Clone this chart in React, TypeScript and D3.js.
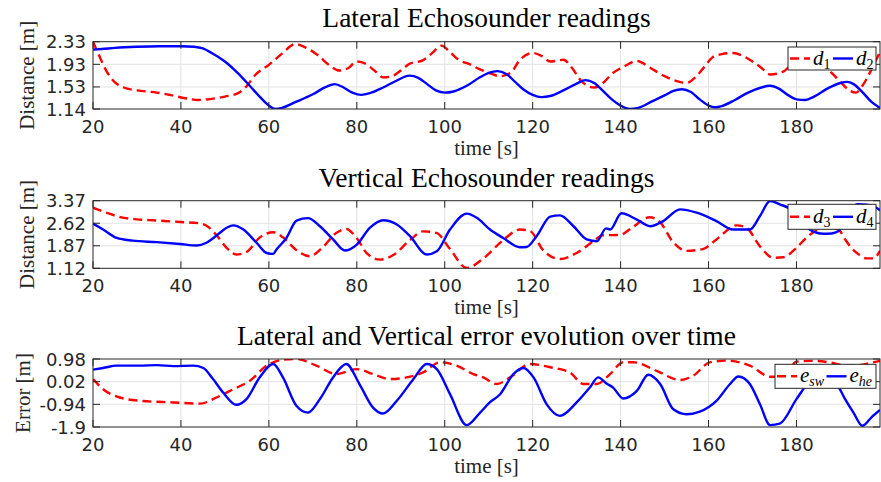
import React, { useEffect, useRef } from 'react'
import * as d3 from 'd3'

type Pt = [number, number]

// time ticks and panel texts
const xTicks = [20, 40, 60, 80, 100, 120, 140, 160, 180]
const titles = ['Lateral Echosounder readings', 'Vertical Echosounder readings', 'Lateral and Vertical error evolution over time']
const yLabels = ['Distance [m]', 'Distance [m]', 'Error [m]']
const yTicks1 = [1.14, 1.53, 1.93, 2.33]
const yTicks2 = [1.12, 1.87, 2.62, 3.37]
const yTicks3 = [-1.9, -0.94, 0.02, 0.98]
const legend1 = [['d', '1'], ['d', '2']]
const legend2 = [['d', '3'], ['d', '4']]
const legend3 = [['e', 'sw'], ['e', 'he']]

// lateral echosounder (red dashed d1, blue d2)
const d1: Pt[] = [[20,2.33],[21,2.15],[22,1.98],[23,1.82],[24,1.70],[25,1.61],[27,1.52],[30,1.47],[34.5,1.43],[38,1.38],[41,1.33],[44,1.30],[47,1.32],[50,1.36],[53,1.42],[55,1.55],[57,1.75],[60,1.92],[63,2.12],[66,2.29],[68,2.24],[71,2.10],[74,1.90],[76,1.82],[78,1.86],[80,1.98],[82,1.94],[84,1.82],[86,1.70],[88,1.72],[90,1.82],[92,1.94],[95,2.00],[97,2.12],[99.3,2.26],[101,2.16],[103,2.02],[106,1.92],[108,1.84],[110,1.78],[112.6,1.72],[115,1.78],[117,2.00],[120,2.13],[122,2.08],[124,1.98],[127,2.01],[129,1.86],[131,1.64],[134,1.52],[136,1.60],[138,1.76],[141,1.90],[143.7,1.99],[146.7,1.87],[150,1.72],[153,1.63],[155,1.60],[157,1.70],[159,1.88],[161,2.06],[163,2.11],[165.6,2.13],[168,2.07],[170,1.98],[172,1.87],[174,1.75],[177,1.80],[178.5,1.90],[181,2.00],[184,1.98],[186,1.92],[188,1.78],[190,1.62],[192,1.47],[193.5,1.43],[195,1.55],[197,1.83],[199,2.15]]
const d2: Pt[] = [[20,2.19],[22,2.20],[25,2.22],[30,2.24],[35,2.25],[40,2.25],[43,2.24],[45,2.21],[47,2.13],[50,1.98],[53,1.77],[56,1.52],[58,1.35],[60,1.20],[61.5,1.14],[63,1.16],[66,1.26],[70,1.40],[73,1.53],[75,1.58],[77,1.52],[79,1.43],[81,1.39],[83,1.42],[86,1.52],[89,1.64],[92,1.73],[94,1.69],[96,1.58],[98,1.47],[100,1.43],[102,1.45],[105,1.55],[108,1.70],[110,1.78],[112,1.81],[114,1.76],[116,1.62],[118,1.48],[120,1.39],[122,1.35],[124,1.37],[127,1.47],[130,1.59],[132,1.65],[134,1.60],[136,1.46],[138,1.31],[140,1.20],[142,1.14],[144,1.16],[147,1.27],[150,1.38],[152,1.46],[154,1.49],[156,1.44],[158,1.31],[160,1.20],[161.5,1.17],[163,1.19],[166,1.30],[169,1.43],[172,1.52],[174,1.55],[176,1.50],[178,1.39],[180,1.31],[182,1.30],[184,1.36],[187,1.50],[190,1.60],[191.5,1.62],[193,1.58],[195,1.44],[197,1.27],[199,1.16]]

// vertical echosounder (red dashed d3, blue d4)
const d3v: Pt[] = [[20,3.14],[23,2.97],[27,2.80],[30,2.75],[34.5,2.71],[40,2.66],[44,2.62],[46,2.52],[48.1,2.22],[50.4,1.80],[52.6,1.58],[54.9,1.66],[57.9,2.14],[61,2.32],[63.2,2.15],[66.3,1.72],[69.3,1.52],[72.3,1.83],[75.4,2.30],[77.6,2.43],[80,2.12],[82.3,1.62],[85.3,1.41],[88.3,1.56],[92.1,2.06],[95.1,2.35],[98.1,2.30],[101.2,1.76],[105,1.13],[108.8,1.45],[113.3,2.06],[117.1,2.41],[119.4,2.36],[122.4,1.72],[126.2,1.43],[130,1.63],[133.8,2.02],[136,2.22],[139.8,2.23],[142.4,2.45],[146.6,2.82],[148.9,2.67],[151.9,2.00],[154.9,1.70],[158.7,1.76],[161.8,2.08],[166.4,2.55],[168.6,2.47],[171.7,1.85],[174.7,1.47],[177,1.49],[180,1.80],[182,2.10],[184.5,2.38],[187,2.48],[189.5,2.42],[191,2.10],[192.5,1.80],[194,1.60],[196,1.45],[197.5,1.45],[199,1.70]]
const d4: Pt[] = [[20,2.61],[22.3,2.41],[25.4,2.13],[29,2.04],[34.5,1.99],[39.8,1.93],[43.6,1.88],[45.8,1.97],[48.1,2.21],[50.4,2.47],[51.9,2.55],[54.2,2.41],[57.2,1.97],[59.5,1.63],[61,1.60],[61.7,1.74],[64,2.13],[66.3,2.71],[68.9,2.79],[71.6,2.52],[74.6,2.08],[77.3,1.71],[80,1.91],[83,2.47],[86,2.72],[89.1,2.58],[92.1,2.19],[95.9,1.58],[98.2,1.69],[101.2,2.41],[105,2.94],[107.3,2.80],[110.3,2.41],[113.3,2.13],[117.1,1.82],[118.6,1.83],[120.9,2.19],[124,2.84],[126.2,2.88],[129.3,2.52],[132.3,2.08],[134.6,2.02],[136.7,2.45],[137.6,2.41],[140.2,2.95],[143.6,2.75],[146.7,2.52],[149.7,2.69],[153.5,3.08],[157.3,2.97],[161.8,2.69],[165.6,2.41],[169.4,2.41],[171.7,2.86],[174,3.36],[176.2,3.25],[178.5,3.10],[180,2.90],[182,2.55],[184,2.33],[186,2.27],[188,2.28],[189.5,2.35],[191,2.70],[192.5,3.10],[194,3.25],[196,3.24],[198,3.15],[199,3.05]]

// error evolution (red dashed e_sw, blue e_he)
const eSw: Pt[] = [[20,0.13],[22.3,-0.30],[26.1,-0.65],[30.7,-0.79],[38.3,-0.86],[44.4,-0.91],[48.1,-0.65],[51.9,-0.30],[55.7,0.06],[59.5,0.70],[63.2,0.95],[66.3,0.98],[70.8,0.70],[75.4,0.34],[80,0.55],[83.7,0.34],[87.5,0.13],[91.3,0.20],[95.1,0.41],[98.9,0.84],[102.7,0.70],[106.5,0.34],[108.8,0.20],[111.8,-0.08],[114.9,0.20],[119.4,0.77],[124,0.63],[128.5,0.41],[131.5,-0.08],[134.6,-0.08],[137.6,0.34],[140.6,0.84],[142.9,0.84],[148.2,0.48],[153.5,0.09],[156.5,0.27],[160.3,0.84],[164.1,0.91],[169.4,0.70],[174,0.23],[177,0.23],[180,0.87],[184,0.90],[188,0.82],[191,0.72],[194,0.72],[197,0.82],[199,0.90]]
const eHe: Pt[] = [[20,0.53],[22.3,0.60],[25.4,0.70],[30.7,0.70],[34.5,0.72],[38.3,0.68],[42.8,0.70],[45.1,0.60],[47.3,0.13],[49.6,-0.44],[52.6,-0.96],[54.9,-0.72],[57.9,0.20],[61,0.77],[63.2,0.20],[66.3,-1.01],[68.9,-1.29],[71.6,-0.72],[74.6,0.20],[77.6,0.77],[80.6,-0.08],[83.7,-1.08],[86,-1.33],[89.1,-0.79],[92.9,0.13],[95.9,0.77],[98.2,0.55],[101.2,-0.51],[105,-1.82],[108,-1.30],[110.3,-0.85],[112.6,-0.51],[115.6,0.34],[117.9,0.60],[120.2,0.20],[123.2,-0.94],[126.2,-1.43],[130,-0.86],[133,-0.23],[134.9,0.20],[136.8,-0.06],[138.3,-0.23],[140.6,-0.69],[143.7,-0.37],[146.3,0.31],[149,-0.08],[152,-1.15],[155,-1.36],[158,-1.25],[161.8,-0.79],[164.9,-0.08],[166.8,0.24],[169.4,-0.08],[171.7,-0.94],[174,-1.82],[176.2,-1.76],[180,-0.72],[183,0.06],[185,0.40],[187,0.45],[189.3,-0.10],[191,-0.70],[193,-1.30],[195,-1.85],[197,-1.50],[199,-1.18]]

const W = 881, H = 482
const xL = 93, xR = 880
const serif = '"Liberation Serif", "Times New Roman", serif'
const sans = '"DejaVu Sans", sans-serif'
const axisCol = '#262626'

const panels = [
  { top: 41.7, bottom: 109, yTicks: yTicks1, red: d1, blue: d2, names: legend1, titleY: 27.3, labelX: 34, legend: { x: 788, y: 47, w: 88, h: 23, line: 20, gap: 3 } },
  { top: 200.7, bottom: 268.3, yTicks: yTicks2, red: d3v, blue: d4, names: legend2, titleY: 186.7, labelX: 34, legend: { x: 788, y: 204.3, w: 88, h: 25, line: 20, gap: 3 } },
  { top: 359, bottom: 427, yTicks: yTicks3, red: eSw, blue: eHe, names: legend3, titleY: 345, labelX: 30, legend: { x: 775, y: 364.3, w: 101, h: 24, line: 20, gap: 3 } },
]

export default function App() {
  const ref = useRef<SVGSVGElement>(null)

  useEffect(() => {
    const svg = d3.select(ref.current)
    svg.selectAll('*').remove()

    panels.forEach((p, i) => {
      const x = d3.scaleLinear().domain([20, 199]).range([xL, xR])
      const y = d3.scaleLinear().domain([p.yTicks[0], p.yTicks[p.yTicks.length - 1]]).range([p.bottom, p.top])
      const g = svg.append('g')

      g.append('rect').attr('x', xL).attr('y', p.top).attr('width', xR - xL).attr('height', p.bottom - p.top).attr('fill', '#fff')

      // grid
      g.selectAll('.gx').data(xTicks.slice(1)).join('line').attr('class', 'gx')
        .attr('x1', d => x(d)).attr('x2', d => x(d)).attr('y1', p.top).attr('y2', p.bottom)
        .attr('stroke', '#e2e2e2').attr('stroke-width', 1)
      g.selectAll('.gy').data(p.yTicks.slice(1, -1)).join('line').attr('class', 'gy')
        .attr('x1', xL).attr('x2', xR).attr('y1', d => y(d)).attr('y2', d => y(d))
        .attr('stroke', '#e2e2e2').attr('stroke-width', 1)

      // lines
      const clipId = `clip${i}`
      g.append('clipPath').attr('id', clipId).append('rect')
        .attr('x', xL).attr('y', p.top).attr('width', xR - xL).attr('height', p.bottom - p.top)
      const line = d3.line<Pt>().x(d => x(d[0])).y(d => y(d[1])).curve(d3.curveMonotoneX)
      const lg = g.append('g').attr('clip-path', `url(#${clipId})`)
      lg.append('path').attr('d', line(p.red)).attr('fill', 'none').attr('stroke', '#ff0000')
        .attr('stroke-width', 2.4).attr('stroke-dasharray', '9,5')
      lg.append('path').attr('d', line(p.blue)).attr('fill', 'none').attr('stroke', '#0000ff')
        .attr('stroke-width', 2.4)

      // box and ticks
      g.append('rect').attr('x', xL).attr('y', p.top).attr('width', xR - xL).attr('height', p.bottom - p.top)
        .attr('fill', 'none').attr('stroke', axisCol).attr('stroke-width', 1)
      const tl = 7
      xTicks.forEach(t => {
        g.append('line').attr('x1', x(t)).attr('x2', x(t)).attr('y1', p.bottom).attr('y2', p.bottom - tl).attr('stroke', axisCol)
        g.append('line').attr('x1', x(t)).attr('x2', x(t)).attr('y1', p.top).attr('y2', p.top + tl).attr('stroke', axisCol)
      })
      p.yTicks.forEach(t => {
        g.append('line').attr('x1', xL).attr('x2', xL + tl).attr('y1', y(t)).attr('y2', y(t)).attr('stroke', axisCol)
        g.append('line').attr('x1', xR).attr('x2', xR - tl).attr('y1', y(t)).attr('y2', y(t)).attr('stroke', axisCol)
      })

      g.selectAll('.xt').data(xTicks).join('text').attr('class', 'xt')
        .attr('x', d => x(d)).attr('y', p.bottom + 24).attr('text-anchor', 'middle')
        .attr('font-family', sans).attr('font-size', 18).attr('fill', axisCol).text(d => String(d))
      g.selectAll('.yt').data(p.yTicks).join('text').attr('class', 'yt')
        .attr('x', 86).attr('y', d => y(d) + 6.5).attr('text-anchor', 'end')
        .attr('font-family', sans).attr('font-size', 18).attr('fill', axisCol).text(d => String(d))

      // titles and labels
      g.append('text').attr('x', (xL + xR) / 2).attr('y', p.titleY).attr('text-anchor', 'middle')
        .attr('font-family', serif).attr('font-size', 27.5).attr('fill', '#000').text(titles[i])
      g.append('text').attr('x', (xL + xR) / 2).attr('y', p.bottom + 46).attr('text-anchor', 'middle')
        .attr('font-family', serif).attr('font-size', 21).attr('fill', '#262626').text('time [s]')
      const cy = (p.top + p.bottom) / 2
      g.append('text').attr('transform', `translate(${p.labelX},${cy}) rotate(-90)`).attr('text-anchor', 'middle')
        .attr('font-family', serif).attr('font-size', 21).attr('fill', '#262626').text(yLabels[i])

      // legend
      const L = p.legend
      const ly = L.y + L.h / 2
      const lgd = g.append('g')
      lgd.append('rect').attr('x', L.x).attr('y', L.y).attr('width', L.w).attr('height', L.h)
        .attr('fill', '#fff').attr('stroke', axisCol).attr('stroke-width', 1)
      const itemW = L.w / 2
      p.names.forEach((n, k) => {
        const x0 = L.x + 2 + k * (itemW - 1)
        lgd.append('line').attr('x1', x0).attr('x2', x0 + L.line).attr('y1', ly).attr('y2', ly)
          .attr('stroke', k === 0 ? '#ff0000' : '#0000ff').attr('stroke-width', 2.4)
          .attr('stroke-dasharray', k === 0 ? '9,5' : null)
        const t = lgd.append('text').attr('x', x0 + L.line + L.gap).attr('y', ly + 6)
          .attr('font-family', serif).attr('font-size', 21).attr('fill', '#000')
        t.append('tspan').attr('font-style', 'italic').text(n[0])
        t.append('tspan').attr('font-style', n[1].length > 1 ? 'italic' : 'normal').attr('font-size', 14).attr('dy', 4).text(n[1])
      })
    })
  }, [])

  return (
    <svg ref={ref} width={W} height={H} style={{ position: 'absolute', left: 0, top: 0, background: '#fff' }} />
  )
}
